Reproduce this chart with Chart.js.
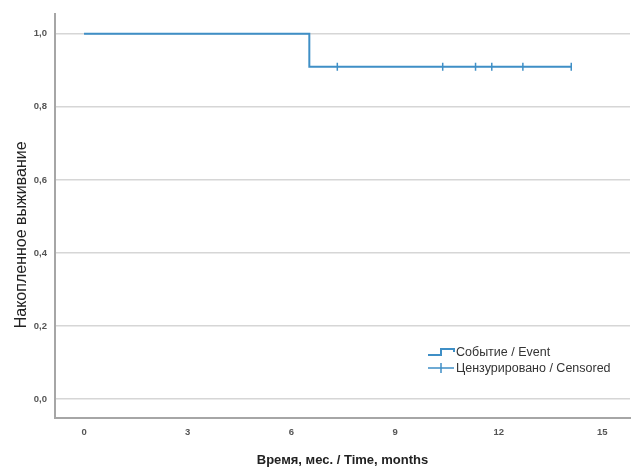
<!DOCTYPE html>
<html>
<head>
<meta charset="utf-8">
<script src="https://cdn.jsdelivr.net/npm/chart.js@4/dist/chart.umd.min.js"></script>
<style>
  html, body { margin: 0; padding: 0; background: #fff; }
  #wrap { width: 638px; height: 472px; position: relative; }
</style>
</head>
<body>
<div id="wrap"><canvas id="kmChart"></canvas></div>
<script>
// данные кривой Каплана-Мейера
const eventTimes = [0, 6.52, 14.1];
const eventSurvival = [1.0, 0.91, 0.91];
const censoredTimes = [7.33, 10.38, 11.33, 11.8, 12.7, 14.1];
const censoredSurvival = [0.91, 0.91, 0.91, 0.91, 0.91, 0.91];
const xTicks = [0, 3, 6, 9, 12, 15];
const yTicks = [0, 0.2, 0.4, 0.6, 0.8, 1.0];
const legendLabels = ['Событие / Event', 'Цензурировано / Censored'];
const yTitle = 'Накопленное выживание';

const lineColor = '#3f8fc6';
const fontFamily = '"Liberation Sans", Arial, sans-serif';

// легенда и подпись оси Y
const legendPlugin = {
  id: 'kmLegend',
  afterDraw(chart) {
    const ctx = chart.ctx;
    const area = chart.chartArea;
    const x0 = area.right - 202;
    const y0 = area.bottom - 66;
    ctx.save();
    ctx.strokeStyle = lineColor;
    ctx.lineWidth = 2;
    // значок события (ступенька)
    ctx.beginPath();
    ctx.moveTo(x0, y0 + 3);
    ctx.lineTo(x0 + 13, y0 + 3);
    ctx.lineTo(x0 + 13, y0 - 3);
    ctx.lineTo(x0 + 26, y0 - 3);
    ctx.lineTo(x0 + 26, y0);
    ctx.stroke();
    // значок цензурирования
    ctx.lineWidth = 1.5;
    ctx.beginPath();
    ctx.moveTo(x0, y0 + 16);
    ctx.lineTo(x0 + 26, y0 + 16);
    ctx.moveTo(x0 + 13, y0 + 11);
    ctx.lineTo(x0 + 13, y0 + 21);
    ctx.stroke();
    ctx.fillStyle = '#333';
    ctx.font = '12.5px ' + fontFamily;
    ctx.textBaseline = 'middle';
    ctx.fillText(legendLabels[0], x0 + 28, y0 + 1);
    ctx.fillText(legendLabels[1], x0 + 28, y0 + 17);

    // подпись оси Y, немного ниже центра как в оригинале
    ctx.translate(22, (area.top + area.bottom) / 2 + 19);
    ctx.rotate(-Math.PI / 2);
    ctx.textAlign = 'center';
    ctx.textBaseline = 'middle';
    ctx.fillStyle = '#222';
    ctx.font = '16px ' + fontFamily;
    ctx.fillText(yTitle, 0, 0);
    ctx.restore();
  }
};

const ctx = document.getElementById('kmChart').getContext('2d');

new Chart(ctx, {
  type: 'scatter',
  data: {
    datasets: [
      {
        label: legendLabels[0],
        data: eventTimes.map((t, i) => ({ x: t, y: eventSurvival[i] })),
        showLine: true,
        stepped: 'before',
        borderColor: lineColor,
        borderWidth: 2,
        pointRadius: 0
      },
      {
        label: legendLabels[1],
        data: censoredTimes.map((t, i) => ({ x: t, y: censoredSurvival[i] })),
        showLine: false,
        pointStyle: 'line',
        rotation: 90,
        pointRadius: 4,
        borderColor: lineColor,
        borderWidth: 1.5
      }
    ]
  },
  options: {
    responsive: true,
    maintainAspectRatio: false,
    animation: false,
    layout: {
      padding: { top: 12, right: 8, left: 0, bottom: 0 }
    },
    plugins: {
      legend: { display: false },
      tooltip: { enabled: false }
    },
    scales: {
      x: {
        type: 'linear',
        min: -0.84,
        max: 15.8,
        afterBuildTicks: scale => {
          scale.ticks = xTicks.map(v => ({ value: v }));
        },
        afterFit: scale => {
          scale.height = 54;
        },
        ticks: {
          color: '#555',
          font: { family: fontFamily, size: 9.5, weight: 'bold' },
          padding: 9
        },
        grid: { display: false, drawTicks: false },
        border: { color: '#a6a6a6', width: 2 },
        title: {
          display: true,
          text: 'Время, мес. / Time, months',
          color: '#222',
          font: { family: fontFamily, size: 13, weight: 'bold' },
          padding: { top: 14 }
        }
      },
      y: {
        min: -0.052,
        max: 1.055,
        afterBuildTicks: scale => {
          scale.ticks = yTicks.map(v => ({ value: v }));
        },
        afterFit: scale => {
          scale.width = 55;
        },
        ticks: {
          color: '#555',
          font: { family: fontFamily, size: 9.5, weight: 'bold' },
          padding: 8,
          callback: v => v.toFixed(1).replace('.', ',')
        },
        grid: { color: '#d6d6d6', lineWidth: 1.5, drawTicks: false },
        border: { color: '#a6a6a6', width: 2 }
      }
    }
  },
  plugins: [legendPlugin]
});
</script>
</body>
</html>
